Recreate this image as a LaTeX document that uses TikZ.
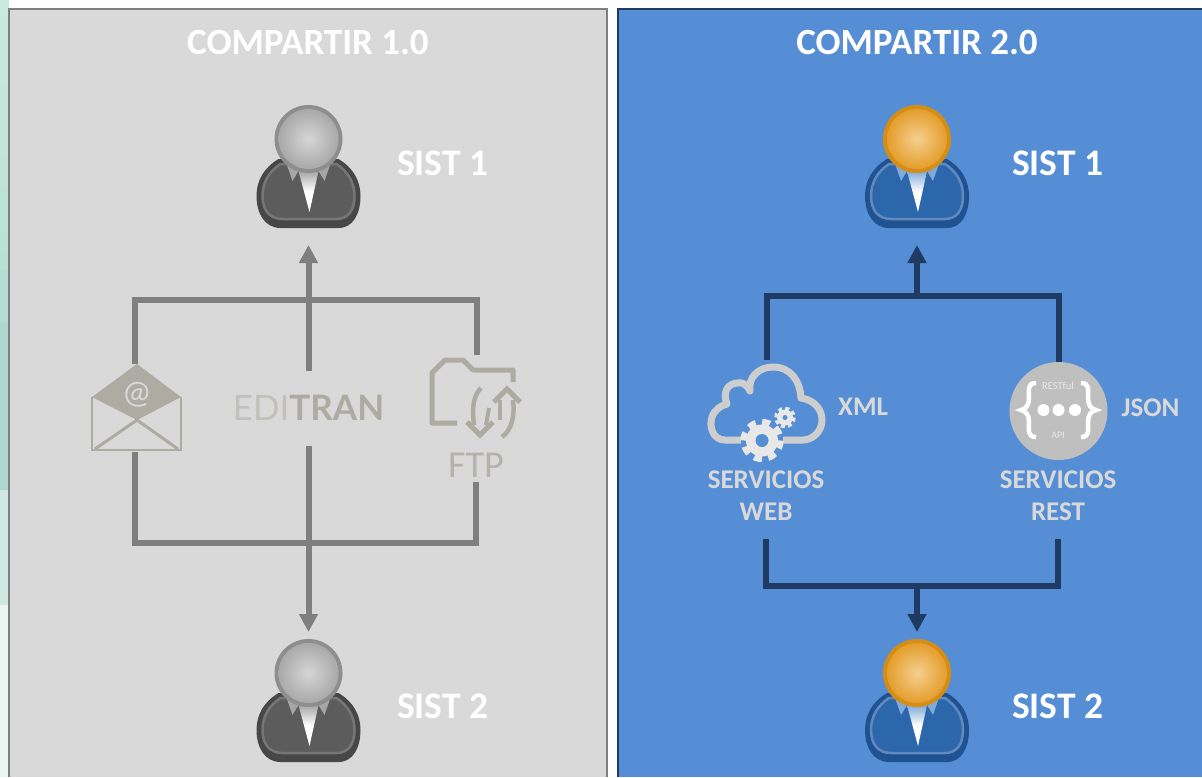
\documentclass[tikz,border=0pt]{standalone}
\usepackage{fontspec}
\setmainfont{Carlito}
\newfontfamily\editfont{Lato}
\usetikzlibrary{arrows.meta}
\usetikzlibrary{positioning}
\definecolor{panelgray}{HTML}{D9D9D9}
\definecolor{panelblue}{HTML}{558ED5}
\definecolor{linegray}{HTML}{7F7F7F}
\definecolor{lineblue}{HTML}{1F3A63}
\definecolor{icongray}{HTML}{ADABA2}
\definecolor{textsoft}{HTML}{D9D9D9}
\definecolor{grayedge}{HTML}{474747}
\definecolor{grayring}{HTML}{767676}
\definecolor{grayfill}{HTML}{5C5C5C}
\definecolor{grayrim}{HTML}{8E8E8E}
\definecolor{grayball}{HTML}{A9A9A9}
\definecolor{grayglow}{HTML}{D6D6D6}
\definecolor{graycollar}{HTML}{A5A5A5}
\definecolor{blueedge}{HTML}{1F5291}
\definecolor{bluering}{HTML}{6289BE}
\definecolor{bluefill}{HTML}{2C66AB}
\definecolor{bluerim}{HTML}{D68D14}
\definecolor{blueball}{HTML}{E49E2C}
\definecolor{blueglow}{HTML}{F6CF90}
\definecolor{bluecollar}{HTML}{7FA9D8}
\definecolor{stripa}{HTML}{C9E9DE}
\definecolor{stripb}{HTML}{B7E1D4}
\definecolor{stripc}{HTML}{B3DFD2}
\definecolor{stripd}{HTML}{ACD7CF}
\definecolor{stripe}{HTML}{CFE8E2}
\definecolor{stripf}{HTML}{EBF5F2}
\tikzset{
  >={Triangle[width=18pt,length=18pt]},
  personbox/.style={minimum width=104pt, minimum height=136pt, inner sep=0pt, outer sep=0pt},
  iconbox/.style={minimum width=#1, inner sep=0pt, outer sep=0pt}
}
% one person, colours picked by prefix
\newcommand{\person}[2]{
  \begin{scope}[shift={(#1)}]
    \fill[#2edge] (-30,-7) .. controls (-45,2) and (-52,15) .. (-52,30) .. controls (-52,47) and (-44,62) .. (-28,62) -- (30,62) .. controls (45,62) and (52,47) .. (52,30) .. controls (52,15) and (45,2) .. (30,-7) -- cycle;
    \filldraw[fill=#2fill, draw=#2ring, line width=2.5pt] (-28,-2) .. controls (-40,6) and (-46,17) .. (-46,30) .. controls (-46,44) and (-39,53) .. (-26,53) -- (28,53) .. controls (40,53) and (46,44) .. (46,30) .. controls (46,17) and (40,6) .. (28,-2) -- cycle;
    \fill[#2collar] (-24,-8) -- (-10,5) -- (-16,15) -- cycle;
    \fill[#2collar] (24,-8) -- (10,5) -- (16,15) -- cycle;
    \shade[top color=#2collar, bottom color=white, middle color=white] (-10,5) -- (10,5) -- (1,46) -- cycle;
    \fill[#2rim] (0,-27) circle (34);
    \shade[inner color=#2glow, outer color=#2ball] (0,-27) circle (30);
  \end{scope}
}
\newcommand{\gear}[3]{
  \fill[textsoft!60!white] (#1) circle (#2);
  \draw[textsoft!60!white, line width=0.4*#2 pt, dash pattern=on 0.5*#2 pt off 0.403*#2 pt] (#1) circle (1.15*#2);
  \fill[panelblue] (#1) circle (#3);
}
\begin{document}
\begin{tikzpicture}[x=1pt, y=-1pt, line cap=butt]
    % Define styles
    \tikzstyle{title} = [text=white, font=\fontsize{37}{37}\selectfont\bfseries, inner sep=0pt]
    \tikzstyle{sist} = [text=white, font=\fontsize{37.5}{37.5}\selectfont\bfseries, inner sep=0pt]
    \tikzstyle{tag} = [text=textsoft, font=\fontsize{27}{32}\selectfont\bfseries, inner sep=0pt, align=center]
    \tikzstyle{grayline} = [draw=linegray, line width=6pt]
    \tikzstyle{blueline} = [draw=lineblue, line width=6pt]

    \useasboundingbox (0,0) rectangle (1202,777);

    % Backdrop strip on the left
    \fill[white] (0,0) rectangle (1202,777);
    \shade[top color=stripa, bottom color=stripb] (0,0) rectangle (9,270);
    \fill[stripc] (0,270) rectangle (9,322);
    \fill[stripd] (0,322) rectangle (9,490);
    \fill[stripe] (0,490) rectangle (9,605);
    \fill[stripf] (0,605) rectangle (9,777);

    % Panels
    \fill[panelgray] (9,9) rectangle (607,777);
    \draw[linegray, line width=2.5pt] (9,777) -- (9,9) -- (607,9) -- (607,777);
    \fill[panelblue] (618,9) rectangle (1202,777);
    \draw[lineblue, line width=2.5pt] (618,777) -- (618,9) -- (1202,9);

    % Place nodes - titles
    \node [title] (titleone) at (308,42) {COMPARTIR 1.0};
    \node [title] (titletwo) at (917,42) {COMPARTIR 2.0};

    % Place nodes - people
    \node [personbox] (grayup) at (308.5,166) {};
    \node [personbox] (graydown) at (308.5,700) {};
    \node [personbox] (blueup) at (917,166) {};
    \node [personbox] (bluedown) at (917,700) {};
    \node [sist, right=36.5pt of grayup, yshift=3pt] (grayupname) {SIST 1};
    \node [sist, right=36.5pt of graydown, yshift=-6pt] (graydownname) {SIST 2};
    \node [sist, right=43pt of blueup, yshift=3pt] (blueupname) {SIST 1};
    \node [sist, right=43pt of bluedown, yshift=-6pt] (bluedownname) {SIST 2};

    % Place nodes - old channels
    \node [iconbox=92pt, minimum height=88pt] (mail) at (135,408) {};
    \node [iconbox=150pt, minimum height=75pt, font=\editfont\fontsize{35}{35}\selectfont] (editran) at (308.5,408) {\textcolor{icongray!55!panelgray}{EDI}\textcolor{icongray}{\bfseries TRAN}};
    \node [iconbox=90pt, minimum height=86pt] (folder) at (477,398) {};
    \node [iconbox=60pt, minimum height=34pt, text=icongray!85!panelgray, font=\fontsize{38}{38}\selectfont] (ftp) at (476,465) {FTP};
    \coordinate (grayrailup) at (308,300);
    \coordinate (grayraildown) at (308,543);

    % Place nodes - new channels
    \node [iconbox=116pt, minimum height=90pt] (cloud) at (767,405) {};
    \node [iconbox=98pt, minimum height=98pt, circle, fill=white!75!black] (rest) at (1058.5,411) {};
    \node [tag, right=13pt of cloud, yshift=-2pt] (xml) {XML};
    \node [tag, right=14pt of rest, yshift=3pt] (json) {JSON};
    \node [tag, minimum height=86pt] (servweb) at (766,496) {SERVICIOS\\WEB};
    \node [tag, minimum height=86pt] (servrest) at (1058,496) {SERVICIOS\\REST};
    \node [text=white!92!black, font=\fontsize{10.5}{10.5}\selectfont, inner sep=0pt] (restful) at (1058,386) {RESTful};
    \node [text=white!92!black, font=\fontsize{10}{10}\selectfont, inner sep=0pt] (api) at (1058,435) {API};
    \coordinate (bluerailup) at (917,296);
    \coordinate (blueraildown) at (917,586);

    % Draw people
    \person{grayup}{gray}
    \person{graydown}{gray}
    \person{blueup}{blue}
    \person{bluedown}{blue}

    % Draw edges
    \draw [grayline] (mail.north) |- (grayrailup) -| (folder.north);
    \draw [grayline] (mail.south) |- (grayraildown) -| (ftp.south);
    \draw [grayline, ->, shorten >=11pt] (editran.north) -- (grayup.south);
    \draw [grayline, ->] (editran.south) -- (graydown.north);
    \draw [blueline] (cloud.north) |- (bluerailup) -| (rest.north);
    \draw [blueline] (servweb.south) |- (blueraildown) -| (servrest.south);
    \draw [blueline, ->, shorten >=11pt] (bluerailup) -- (blueup.south);
    \draw [blueline, ->] (blueraildown) -- (bluedown.north);

    % Envelope
    \fill[icongray] (92,397) -- (137,364) -- (181,397) -- (137,420) -- cycle;
    \draw[icongray, line width=2.5pt] (92,397) -- (92,450) -- (181,450) -- (181,397);
    \draw[icongray, line width=3pt] (95,449) -- (137,420) -- (178,449);
    \node [text=panelgray, font=\fontsize{33}{33}\selectfont, inner sep=0pt] (at) at (137,395) {@};

    % Folder with sync arrows
    \draw[icongray, line width=5pt, line join=round] (457,423) -- (432,423) -- (432,373) -- (445,360) -- (463,360) -- (473,370) -- (513,370) -- (513,382);
    \draw[icongray, line width=4.5pt] (481,388) .. controls (473,396) and (472,408) .. (474,425);
    \draw[icongray, line width=4pt] (489,408) -- (486,425);
    \draw[icongray, line width=5pt] (467,422) -- (480,435) -- (493,422);
    \draw[icongray, line width=5pt] (494,402) -- (507,389) -- (520,402);
    \draw[icongray, line width=4.5pt] (513,400) .. controls (515,415) and (512,430) .. (502,437);
    \draw[icongray, line width=4pt] (500,400) -- (500,420);

    % Cloud with gears
    \draw[textsoft!95!black, line width=7pt, line join=round] (741,440) -- (725,440) .. controls (712,440) and (709,425) .. (712,417) .. controls (714,410) and (722,405) .. (727,404) .. controls (722,392) and (728,383) .. (738,383) .. controls (745,382) and (748,387) .. (750,391) .. controls (748,378) and (758,367) .. (773,367) .. controls (790,367) and (800,380) .. (801,398) .. controls (815,400) and (822,410) .. (822,420) .. controls (822,432) and (812,440) .. (803,440) -- (783,440);
    \gear{762,440.5}{16}{6.5}
    \gear{785,417.5}{8}{2.5}

    % Rest badge
    \fill[white] (1043.5,410) circle (6);
    \fill[white] (1058.5,410) circle (6);
    \fill[white] (1075,410) circle (6);
    \draw[white, line width=4.5pt] (1036,383) .. controls (1027,383) and (1029,390) .. (1029,398) .. controls (1029,405) and (1026,409) .. (1021,410) .. controls (1026,411) and (1029,415) .. (1029,422) .. controls (1029,430) and (1027,437) .. (1036,437);
    \draw[white, line width=4.5pt] (1081,383) .. controls (1090,383) and (1088,390) .. (1088,398) .. controls (1088,405) and (1091,409) .. (1096,410) .. controls (1091,411) and (1088,415) .. (1088,422) .. controls (1088,430) and (1090,437) .. (1081,437);

\end{tikzpicture}
\end{document}
